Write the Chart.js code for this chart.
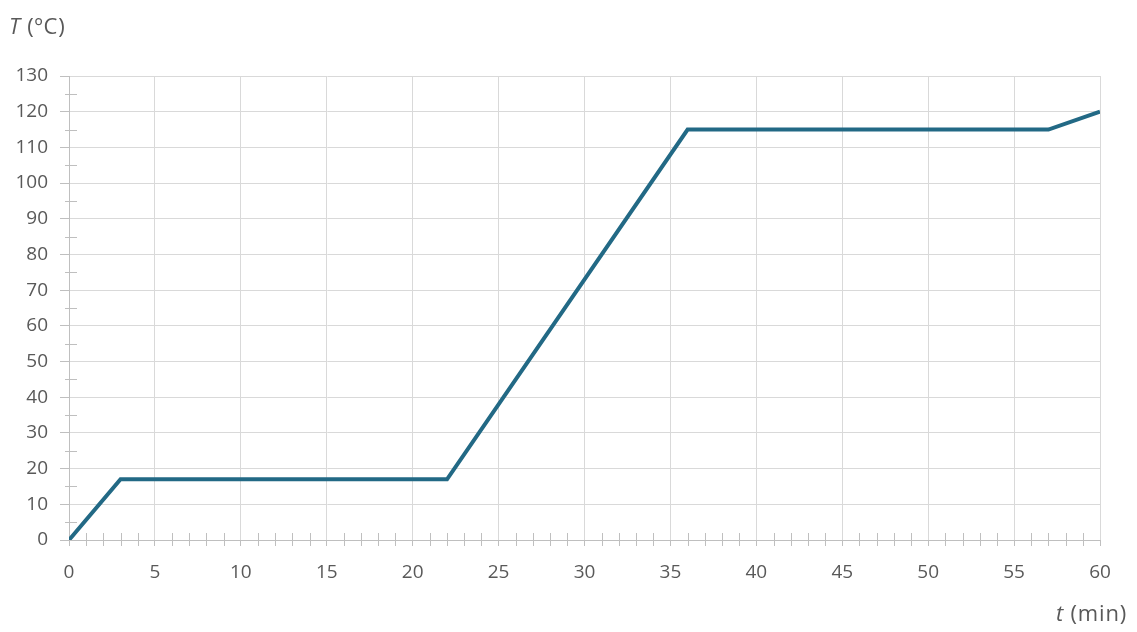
<!DOCTYPE html>
<html>
<head>
<meta charset="utf-8">
<script src="https://cdn.jsdelivr.net/npm/chart.js@4.4.1/dist/chart.umd.min.js"></script>
<style>
  html, body { margin: 0; padding: 0; background: #ffffff; }
  #wrap { position: relative; width: 1137px; height: 632px; }
  canvas { display: block; }
  .axis-title { position: absolute; font-family: "Open Sans", sans-serif; font-size: 22px; letter-spacing: 0.8px; color: #595959; white-space: nowrap; line-height: 1; }
</style>
</head>
<body>
<div id="wrap">
  <canvas id="chart" width="1137" height="632"></canvas>
  <div class="axis-title" style="left:9px; top:14px;"><i>T</i> (ºC)</div>
  <div class="axis-title" style="left:1056px; top:601px;"><i>t</i> (min)</div>
</div>
<script>
// Heating profile: time (min) against temperature (°C)
const timeMin = [0, 3, 22, 36, 57, 60];
const tempC = [0, 17, 17, 115, 115, 120];

// Axis ranges and tick steps
const xRange = [0, 60];
const xMajorStep = 5;
const xMinorStep = 1;
const yRange = [0, 130];
const yMajorStep = 10;
const yMinorStep = 5;

const points = timeMin.map((t, i) => ({ x: t, y: tempC[i] }));

// Small ticks between labelled ticks on both axes
const minorTicks = {
  id: 'minorTicks',
  afterDatasetsDraw(chart) {
    const { ctx, scales: { x, y } } = chart;
    ctx.save();
    ctx.strokeStyle = '#bfbfbf';
    ctx.lineWidth = 1;
    const y0 = y.getPixelForValue(yRange[0]);
    for (let v = xRange[0] + xMinorStep; v < xRange[1]; v += xMinorStep) {
      if (v % xMajorStep === 0) continue;
      const px = Math.round(x.getPixelForValue(v)) + 0.5;
      ctx.beginPath();
      ctx.moveTo(px, y0 - 7);
      ctx.lineTo(px, y0 + 6);
      ctx.stroke();
    }
    const x0 = x.getPixelForValue(xRange[0]);
    for (let v = yRange[0] + yMinorStep; v < yRange[1]; v += yMinorStep) {
      if (v % yMajorStep === 0) continue;
      const py = Math.round(y.getPixelForValue(v)) + 0.5;
      ctx.beginPath();
      ctx.moveTo(x0 - 4, py);
      ctx.lineTo(x0 + 8, py);
      ctx.stroke();
    }
    ctx.restore();
  }
};

new Chart(document.getElementById('chart'), {
  type: 'line',
  data: {
    datasets: [{
      data: points,
      borderColor: '#226985',
      borderWidth: 4,
      pointRadius: 0,
      tension: 0,
      fill: false
    }]
  },
  options: {
    responsive: false,
    animation: false,
    layout: { padding: { left: 0, right: 37, top: 76, bottom: 0 } },
    plugins: { legend: { display: false }, tooltip: { enabled: false } },
    scales: {
      x: {
        type: 'linear',
        min: xRange[0],
        max: xRange[1],
        afterFit(scale) { scale.height = 92; },
        afterBuildTicks(scale) {
          const t = [];
          for (let v = xRange[0]; v <= xRange[1]; v += xMajorStep) t.push({ value: v });
          scale.ticks = t;
        },
        ticks: {
          color: '#595959',
          font: { family: 'Open Sans', size: 19 },
          padding: 15,
          maxRotation: 0
        },
        grid: { color: '#d9d9d9', lineWidth: 1, tickLength: 6, tickColor: '#bfbfbf' },
        border: { color: '#bfbfbf', width: 1 }
      },
      y: {
        type: 'linear',
        min: yRange[0],
        max: yRange[1],
        afterFit(scale) { scale.width = 69; },
        afterBuildTicks(scale) {
          const t = [];
          for (let v = yRange[0]; v <= yRange[1]; v += yMajorStep) t.push({ value: v });
          scale.ticks = t;
        },
        ticks: {
          color: '#595959',
          font: { family: 'Open Sans', size: 19 },
          padding: 12
        },
        grid: { color: '#d9d9d9', lineWidth: 1, tickLength: 9, tickColor: '#bfbfbf' },
        border: { color: '#bfbfbf', width: 1 }
      }
    }
  },
  plugins: [minorTicks]
});
</script>
</body>
</html>
